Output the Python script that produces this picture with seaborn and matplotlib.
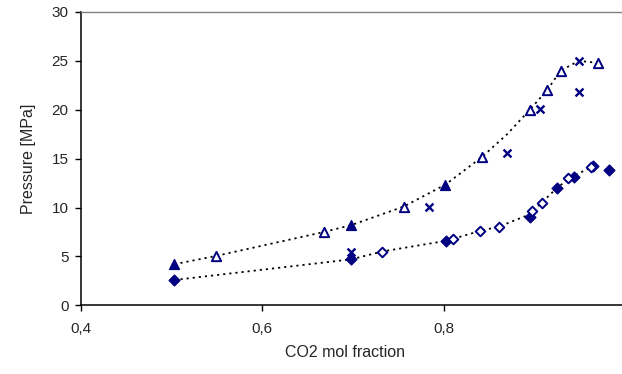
import matplotlib
matplotlib.use("Agg")
import matplotlib.pyplot as plt
import seaborn as sns
import pandas as pd

# markers
tri_filled_x = [0.503, 0.698, 0.802]
tri_filled_y = [4.2, 8.2, 12.35]
tri_open_x = [0.549, 0.668, 0.756, 0.842, 0.895, 0.914, 0.929, 0.970]
tri_open_y = [5.05, 7.5, 10.1, 15.15, 20.0, 22.0, 24.0, 24.8]
cross_x = [0.698, 0.784, 0.870, 0.906, 0.949, 0.949]
cross_y = [5.5, 10.1, 15.6, 20.1, 25.0, 21.8]
dia_filled_x = [0.503, 0.698, 0.803, 0.895, 0.925, 0.944, 0.965, 0.982]
dia_filled_y = [2.59, 4.7, 6.6, 9.07, 11.97, 13.17, 14.2, 13.85]
dia_open_x = [0.732, 0.810, 0.840, 0.861, 0.897, 0.908, 0.937, 0.963]
dia_open_y = [5.5, 6.8, 7.6, 8.05, 9.6, 10.5, 13.06, 14.1]

# dotted trend curves (points along the drawn curves)
upper_line_x = [0.503, 0.549, 0.668, 0.698, 0.756, 0.802, 0.842, 0.870, 0.895, 0.914, 0.929, 0.949, 0.970]
upper_line_y = [4.2, 5.05, 7.5, 8.2, 10.1, 12.35, 15.15, 17.5, 20.0, 22.0, 24.0, 25.0, 24.8]
lower_line_x = [0.503, 0.698, 0.732, 0.803, 0.840, 0.861, 0.895, 0.908, 0.925, 0.940, 0.965]
lower_line_y = [2.59, 4.7, 5.5, 6.6, 7.6, 8.05, 9.3, 10.5, 12.0, 13.1, 14.2]

xticks = [0.4, 0.6, 0.8, 1.0]
xtick_labels = ["0,4", "0,6", "0,8", "1"]

sns.set_style("ticks")
plt.rcParams["font.family"] = ["Liberation Sans", "DejaVu Sans"]

navy = "#000080"

fig = plt.figure(figsize=(6.22, 3.74), dpi=100)
W, H = 622, 374
ax = fig.add_axes([81 / W, (H - 305.3) / H, (625 - 81) / W, (305.3 - 12) / H])

up = pd.DataFrame({"x": upper_line_x, "y": upper_line_y})
lo = pd.DataFrame({"x": lower_line_x, "y": lower_line_y})
for d in (up, lo):
    sns.lineplot(data=d, x="x", y="y", sort=False, ax=ax, color="black",
                 linestyle=(0, (1.2, 2.2)), linewidth=1.3, zorder=1)

sns.scatterplot(x=tri_filled_x, y=tri_filled_y, marker="^", s=50, color=navy,
                edgecolor=navy, linewidth=1, ax=ax, zorder=3)
sns.scatterplot(x=tri_open_x, y=tri_open_y, marker="^", s=45, facecolor="white",
                edgecolor=navy, linewidth=1.4, ax=ax, zorder=3)
sns.scatterplot(x=cross_x, y=cross_y, marker="x", s=32, color=navy,
                linewidth=1.7, ax=ax, zorder=3)
sns.scatterplot(x=dia_filled_x, y=dia_filled_y, marker="D", s=30, color=navy,
                edgecolor=navy, linewidth=1, ax=ax, zorder=3)
sns.scatterplot(x=dia_open_x, y=dia_open_y, marker="D", s=24, facecolor="white",
                edgecolor=navy, linewidth=1.4, ax=ax, zorder=3)

ax.set_xlim(0.4, 1.0)
ax.set_ylim(0, 30)
ax.set_xticks(xticks)
ax.set_xticklabels(xtick_labels)
ax.set_yticks(range(0, 31, 5))
ax.tick_params(axis="both", direction="out", length=4, width=1, labelsize=11,
               color="black", pad=5)
ax.tick_params(axis="x", pad=8)

for side in ("left", "bottom"):
    ax.spines[side].set_color("black")
    ax.spines[side].set_linewidth(1.1)
ax.spines["top"].set_color("#808080")
ax.spines["top"].set_linewidth(1)
ax.spines["right"].set_visible(False)

ax.set_xlabel("CO2 mol fraction", fontsize=11.5)
ax.set_ylabel("Pressure [MPa]", fontsize=11.5)
ax.xaxis.set_label_coords((345 - 81) / 544, -0.135)
ax.yaxis.set_label_coords(-0.082, 0.5)

fig.savefig("out.png", dpi=100)
